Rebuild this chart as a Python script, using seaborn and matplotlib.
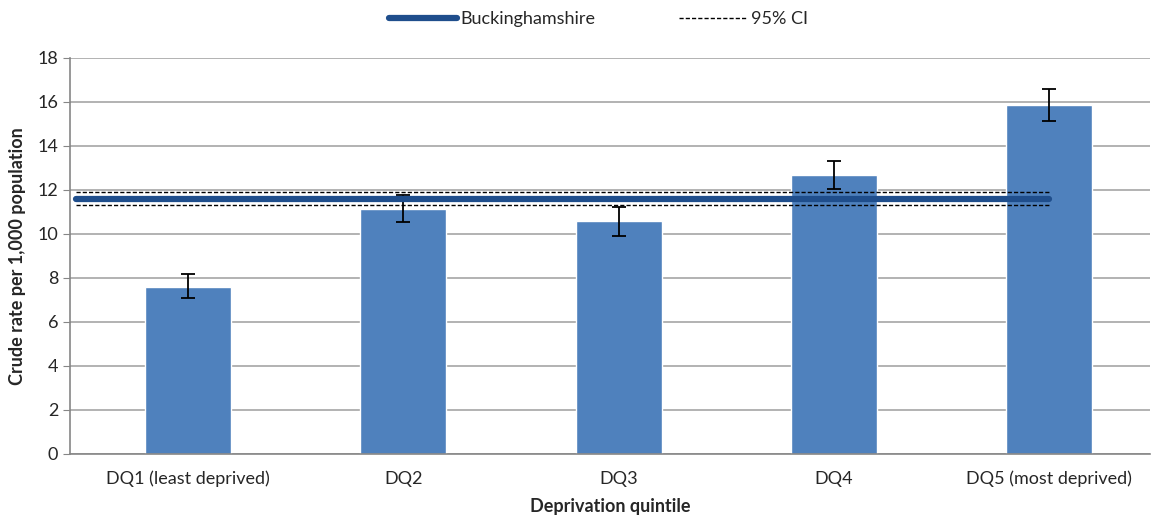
import pandas as pd
import matplotlib.pyplot as plt
import seaborn as sns
from matplotlib.lines import Line2D

# Data
quintiles = ["DQ1 (least deprived)", "DQ2", "DQ3", "DQ4", "DQ5 (most deprived)"]
rates = [7.6, 11.15, 10.57, 12.67, 15.85]
ci_lower = [7.1, 10.55, 9.91, 12.06, 15.12]
ci_upper = [8.2, 11.79, 11.24, 13.32, 16.59]
bucks_rate = 11.6
bucks_lower = 11.3
bucks_upper = 11.92

df = pd.DataFrame({"quintile": quintiles, "rate": rates})

sns.set_style("white")
plt.rcParams["font.family"] = ["Lato", "DejaVu Sans"]

fig = plt.figure(figsize=(11.55, 5.3), dpi=100)
ax = fig.add_axes([0.0606, 0.1434, 0.935, 0.7472])

ax.yaxis.grid(True, color="#a6a6a6", linewidth=1.2)
ax.set_axisbelow(True)

sns.barplot(data=df, x="quintile", y="rate", color="#4f81bd", width=0.4,
            saturation=1, ax=ax, zorder=2)

# 95% CI error bars
err_low = [r - l for r, l in zip(rates, ci_lower)]
err_high = [u - r for r, u in zip(rates, ci_upper)]
ax.errorbar(range(len(quintiles)), rates, yerr=[err_low, err_high], fmt="none",
            ecolor="black", elinewidth=1.3, capsize=5, capthick=1.3, zorder=3)

# Buckinghamshire line and CI
x_line = [-0.52, len(quintiles) - 1]
ax.plot(x_line, [bucks_rate] * 2, color="#1f4e8c", linewidth=4.5,
        solid_capstyle="round", zorder=4)
ax.plot(x_line, [bucks_upper] * 2, color="black", linestyle=(0, (3, 1.5)), linewidth=1, zorder=4)
ax.plot(x_line, [bucks_lower] * 2, color="black", linestyle=(0, (3, 1.5)), linewidth=1, zorder=4)

ax.set_xlim(-0.55, 4.47)
ax.set_ylim(0, 18)
ax.set_yticks(range(0, 19, 2))
ax.tick_params(axis="y", labelsize=13, length=5, color="#868686", direction="out", left=True)
ax.tick_params(axis="x", labelsize=13, length=0, pad=12)

for side in ["top", "right"]:
    ax.spines[side].set_visible(False)
for side in ["left", "bottom"]:
    ax.spines[side].set_color("#868686")
    ax.spines[side].set_linewidth(1.2)

ax.set_xlabel("Deprivation quintile", fontsize=13, fontweight="bold", labelpad=8)
ax.set_ylabel("Crude rate per 1,000 population", fontsize=13, fontweight="bold", labelpad=8)

handles = [Line2D([], [], color="#1f4e8c", linewidth=4.5, solid_capstyle="round"),
           Line2D([], [], color="black", linewidth=1, linestyle=(0, (3, 1.5)))]
fig.legend(handles, ["Buckinghamshire", "95% CI"], loc="upper center",
           bbox_to_anchor=(0.518, 1.01), ncol=2, frameon=False, fontsize=13,
           handlelength=3.8, handletextpad=0.2, columnspacing=4.6)

plt.savefig("out.png", dpi=100)
